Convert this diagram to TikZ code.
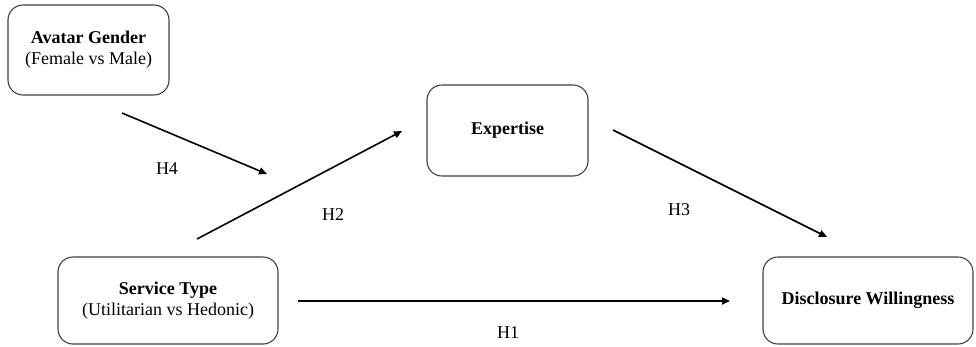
\documentclass[tikz,border=0pt]{standalone}
\usepackage{fontspec}
\setmainfont{Liberation Serif}
\usetikzlibrary{arrows.meta}

\begin{document}
\begin{tikzpicture}[x=1pt,y=-1pt,
	box/.style={draw=black!75,line width=1.1pt,rounded corners=15pt,align=center,font=\fontsize{18}{21}\selectfont},
	link/.style={draw,line width=1.6pt,-{Triangle[length=8pt,width=7pt]}},
	lab/.style={font=\fontsize{18}{21}\selectfont}]
	\useasboundingbox (0,0) rectangle (976,346);
	\node[box,minimum width=161pt,minimum height=90pt] (avatar) at (88.5,50) {\textbf{Avatar Gender}\\(Female vs Male)};
	\node[box,minimum width=161pt,minimum height=91pt] (exp) at (507.5,130.5) {\textbf{Expertise}};
	\node[box,minimum width=220pt,minimum height=87pt] (svc) at (168,300.5) {\textbf{Service Type}\\(Utilitarian vs Hedonic)};
	\node[box,minimum width=210pt,minimum height=87pt] (disc) at (868,300.5) {\textbf{Disclosure Willingness}};
	% free arrow ends
	\coordinate (h4s) at (122,113);
	\coordinate (h4e) at (267,174);
	\coordinate (h2s) at (197,239);
	\coordinate (h2e) at (402,131);
	\coordinate (h3s) at (613,130);
	\coordinate (h3e) at (827,237);
	\coordinate (h1s) at (298,301);
	\coordinate (h1e) at (730,301);
	\draw[link] (h4s) -- (h4e);
	\draw[link] (h2s) -- (h2e);
	\draw[link] (h3s) -- (h3e);
	\draw[link] (h1s) -- (h1e);
	\node[lab] (l4) at (167,169) {H4};
	\node[lab] (l2) at (333,215) {H2};
	\node[lab] (l3) at (679,210) {H3};
	\node[lab] (l1) at (508,333) {H1};
\end{tikzpicture}
\end{document}
